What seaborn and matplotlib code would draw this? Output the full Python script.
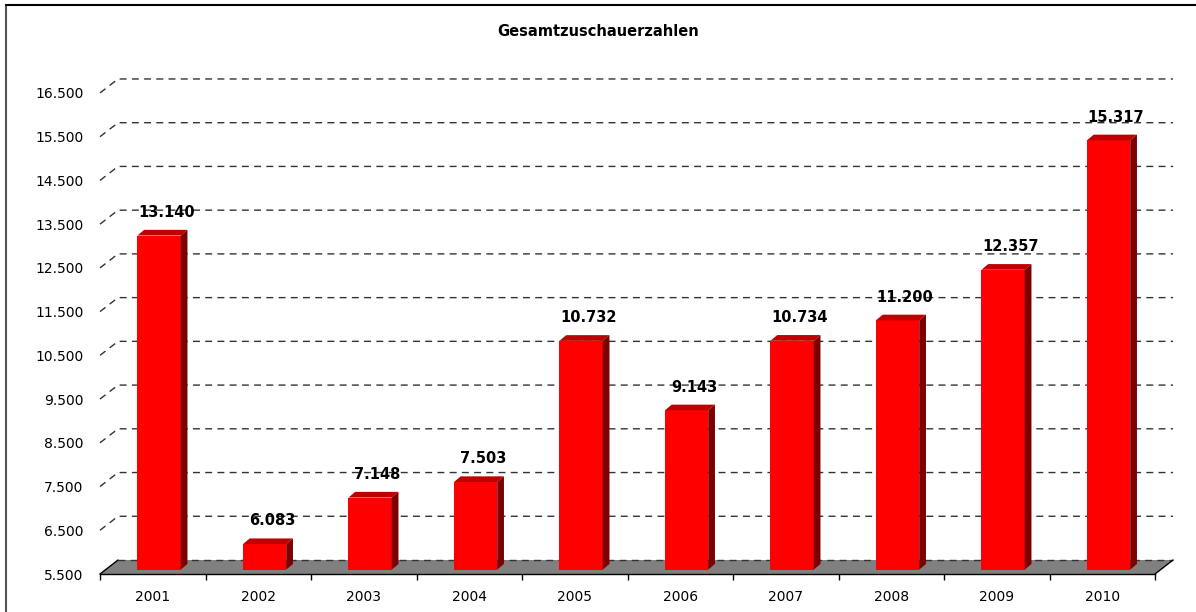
import matplotlib
matplotlib.use("Agg")
import matplotlib.pyplot as plt
import seaborn as sns
import numpy as np
import pandas as pd
from matplotlib.patches import Polygon
from matplotlib.lines import Line2D

# data
years = ["2001", "2002", "2003", "2004", "2005", "2006", "2007", "2008", "2009", "2010"]
zuschauer = [13140, 6083, 7148, 7503, 10732, 9143, 10734, 11200, 12357, 15317]
y_ticks = [5500, 6500, 7500, 8500, 9500, 10500, 11500, 12500, 13500, 14500, 15500, 16500]

df = pd.DataFrame({"Jahr": years, "Zuschauer": zuschauer})

def de_fmt(v):
    return f"{v:,.0f}".replace(",", ".")

sns.set_style("white")
plt.rcParams["font.family"] = ["DejaVu Sans"]
plt.rcParams["text.color"] = "black"

fig = plt.figure(figsize=(11.96, 6.12), dpi=100)
ax = fig.add_axes([100 / 1196, 38 / 612, 1055 / 1196, 502.9 / 612])

base = 5500
top = 17000
# 3d offsets (category units / value units)
back_dx, back_dy = 0.171, 320
bar_dx, bar_dy = 0.06, 100
dep_dx, dep_dy = 0.064, 130
bw = 0.41

sns.barplot(data=df, x="Jahr", y="Zuschauer", color="#FF0000", saturation=1,
            width=bw, ax=ax, zorder=4)
bars = list(ax.patches)

ax.set_xlim(-0.5, 9.5)
ax.set_ylim(base, top)

# back grid lines incl. diagonal on the left
for v in y_ticks[1:]:
    ax.plot([-0.5, -0.5 + back_dx, 9.5 + back_dx], [v, v + back_dy, v + back_dy],
            color="#333333", lw=1, ls=(0, (5, 3.8)), zorder=1, clip_on=False)

# floor
floor = Polygon([[-0.5, base], [9.5, base], [9.5 + back_dx, base + back_dy],
                 [-0.5 + back_dx, base + back_dy]], closed=True,
                facecolor="#808080", edgecolor="none", zorder=2, clip_on=False)
ax.add_patch(floor)
ax.plot([-0.5 + back_dx, 9.5 + back_dx], [base + back_dy, base + back_dy],
        color="#333333", lw=1, ls=(0, (5, 3.8)), zorder=2.5, clip_on=False)
ax.plot([-0.5, -0.5 + back_dx], [base, base + back_dy], color="black", lw=1,
        zorder=2.6, clip_on=False)
ax.plot([9.5, 9.5 + back_dx], [base, base + back_dy], color="black", lw=1,
        zorder=2.6, clip_on=False)

# bars as 3d boxes
for p, v in zip(bars, zuschauer):
    x0 = p.get_x() + bar_dx
    p.set_x(x0)
    p.set_y(base + bar_dy)
    p.set_height(v - base)
    p.set_edgecolor("none")
    x1 = x0 + p.get_width()
    yt = v + bar_dy
    yb = base + bar_dy
    top_face = Polygon([[x0, yt], [x1, yt], [x1 + dep_dx, yt + dep_dy], [x0 + dep_dx, yt + dep_dy]],
                       closed=True, facecolor="#BE0000", edgecolor="none", zorder=4)
    side_face = Polygon([[x1, yb], [x1 + dep_dx, yb + dep_dy], [x1 + dep_dx, yt + dep_dy], [x1, yt]],
                        closed=True, facecolor="#7C0000", edgecolor="none", zorder=4)
    ax.add_patch(top_face)
    ax.add_patch(side_face)
    ax.text((x0 + x1) / 2 + 0.07, yt + dep_dy + 230, de_fmt(v), ha="center", va="bottom",
            fontsize=10.5, fontweight="bold", color="black", zorder=5)

# axes styling
for s in ["left", "right", "top"]:
    ax.spines[s].set_visible(False)
ax.spines["bottom"].set_color("black")
ax.spines["bottom"].set_linewidth(1)
ax.spines["bottom"].set_zorder(3)

ax.set_yticks(y_ticks)
ax.set_yticklabels([de_fmt(v) for v in y_ticks])
ax.tick_params(axis="y", length=0, pad=12, labelsize=10, labelcolor="black")
ax.set_xticks(range(len(years)))
ax.set_xticklabels(years)
ax.set_xticks(np.arange(-0.5, 10, 1), minor=True)
ax.tick_params(axis="x", which="major", length=0, pad=11.5, labelsize=10, labelcolor="black")
ax.tick_params(axis="x", which="minor", bottom=True, length=4.3, width=1, color="black",
               direction="out")
ax.set_xlabel("")
ax.set_ylabel("")
ax.grid(False)

fig.text(0.5, 1 - 31.5 / 612, "Gesamtzuschauerzahlen", ha="center", va="center",
         fontsize=10.5, fontweight="bold", color="black")

# outer frame
fig.add_artist(Line2D([6 / 1196, 6 / 1196], [0, 1 - 5 / 612], color="#555555", lw=1.5))
fig.add_artist(Line2D([6 / 1196, 1], [1 - 5 / 612, 1 - 5 / 612], color="black", lw=1.5))

fig.savefig("out.png", dpi=100)
